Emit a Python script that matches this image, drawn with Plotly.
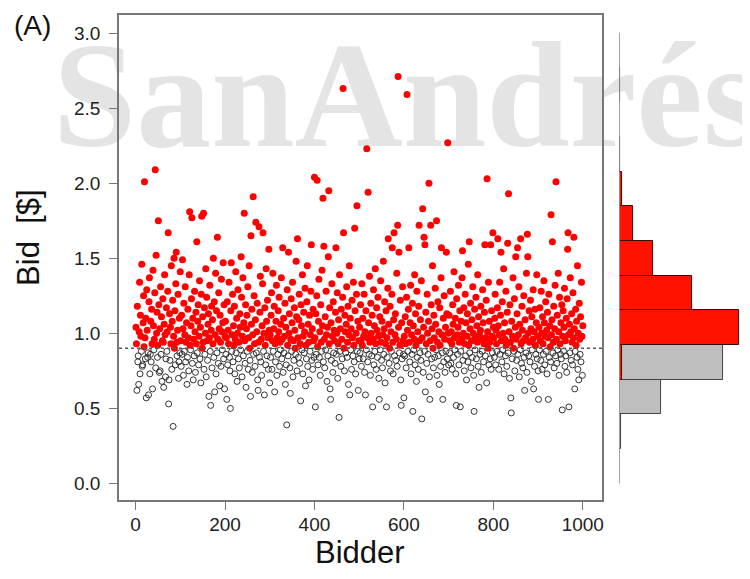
import plotly.graph_objects as go

# ---------------- data (bids in cents) ----------------
bids_0001_0100 = [104, 93, 62, 118, 81, 85, 66, 101, 134, 73,
                  112, 98, 88, 146, 78, 79, 107, 125, 91, 201,
                  97, 83, 110, 57, 129, 102, 84, 87, 59, 121,
                  137, 73, 86, 108, 81, 116, 93, 63, 142, 105,
                  89, 96, 127, 209, 77, 152, 100, 114, 84, 92,
                  175, 119, 74, 103, 75, 131, 86, 111, 68, 95,
                  123, 94, 64, 106, 139, 99, 71, 83, 117, 88,
                  101, 128, 167, 53, 69, 113, 82, 104, 93, 145,
                  76, 108, 122, 38, 98, 150, 90, 115, 79, 133,
                  154, 94, 85, 102, 126, 70, 81, 110, 87, 141]
bids_0101_0200 = [95, 78, 112, 86, 149, 103, 72, 120, 88, 99,
                  131, 81, 94, 107, 66, 84, 116, 97, 75, 139,
                  181, 92, 89, 105, 123, 177, 80, 110, 69, 96,
                  85, 128, 101, 74, 114, 93, 161, 87, 108, 119,
                  79, 98, 135, 83, 104, 67, 126, 178, 90, 111,
                  94, 180, 76, 117, 86, 100, 143, 71, 124, 95,
                  82, 106, 113, 58, 97, 132, 88, 52, 102, 118,
                  77, 109, 93, 150, 84, 121, 61, 99, 140, 73,
                  115, 87, 164, 96, 80, 127, 103, 65, 112, 94,
                  78, 136, 101, 89, 107, 147, 83, 119, 63, 98]
bids_0201_0300 = [108, 86, 97, 56, 121, 79, 102, 93, 134, 84,
                  75, 50, 115, 147, 88, 99, 126, 81, 105, 92,
                  118, 73, 96, 141, 87, 110, 68, 100, 129, 83,
                  94, 77, 113, 104, 89, 151, 124, 71, 98, 137,
                  85, 107, 180, 95, 80, 119, 64, 103, 112, 88,
                  131, 76, 97, 145, 90, 82, 58, 165, 106, 116,
                  74, 99, 191, 86, 125, 93, 78, 109, 174, 87,
                  101, 120, 69, 62, 94, 171, 84, 114, 138, 81,
                  96, 72, 105, 133, 167, 88, 100, 59, 117, 92,
                  79, 143, 108, 85, 122, 97, 76, 156, 102, 67]
bids_0301_0400 = [99, 84, 112, 127, 76, 95, 140, 88, 103, 118,
                  61, 93, 81, 108, 132, 72, 97, 86, 115, 101,
                  124, 78, 94, 89, 106, 137, 83, 96, 157, 74,
                  110, 87, 98, 120, 66, 104, 79, 39, 129, 92,
                  85, 154, 100, 113, 77, 60, 96, 123, 88, 107,
                  134, 71, 95, 82, 117, 102, 90, 86, 148, 111,
                  75, 163, 97, 84, 109, 126, 80, 93, 55, 119,
                  105, 89, 139, 73, 98, 114, 87, 101, 130, 65,
                  92, 83, 121, 145, 78, 106, 94, 69, 112, 88,
                  99, 128, 159, 82, 103, 76, 116, 95, 84, 204]
bids_0401_0500 = [97, 51, 113, 86, 125, 202, 91, 79, 108, 136,
                  84, 101, 72, 119, 94, 88, 142, 105, 190, 81,
                  158, 96, 77, 111, 89, 128, 99, 68, 104, 85,
                  151, 195, 93, 117, 63, 56, 107, 82, 133, 98,
                  74, 121, 87, 102, 95, 80, 114, 157, 86, 100,
                  127, 70, 93, 109, 44, 139, 88, 103, 78, 116,
                  96, 83, 124, 263, 167, 90, 75, 112, 101, 87,
                  106, 131, 84, 94, 118, 66, 99, 145, 59, 110,
                  89, 103, 76, 122, 97, 85, 134, 92, 81, 170,
                  115, 73, 100, 126, 185, 88, 108, 62, 95, 83]
bids_0501_0600 = [104, 87, 119, 95, 78, 133, 92, 110, 83, 98,
                  126, 74, 101, 59, 115, 89, 223, 97, 81, 194,
                  107, 86, 138, 94, 72, 120, 100, 85, 112, 51,
                  96, 129, 79, 105, 88, 143, 93, 76, 117, 102,
                  84, 124, 98, 70, 56, 111, 89, 135, 94, 82,
                  108, 77, 99, 148, 86, 103, 121, 67, 93, 115,
                  51, 97, 84, 130, 163, 106, 80, 90, 118, 75,
                  101, 88, 126, 157, 94, 73, 109, 167, 85, 99,
                  113, 82, 96, 140, 78, 172, 271, 104, 154, 87,
                  92, 122, 69, 52, 107, 83, 131, 95, 86, 57]
bids_0601_0700 = [98, 85, 111, 93, 77, 124, 259, 102, 88, 116,
                  157, 94, 81, 107, 132, 73, 99, 86, 120, 48,
                  105, 89, 96, 139, 79, 113, 92, 68, 128, 84,
                  101, 76, 118, 172, 95, 87, 109, 82, 135, 43,
                  97, 183, 74, 104, 164, 88, 159, 61, 114, 93,
                  80, 126, 100, 86, 108, 200, 71, 56, 95, 172,
                  119, 83, 103, 145, 90, 77, 112, 97, 84, 130,
                  106, 89, 175, 72, 94, 121, 85, 101, 66, 117,
                  92, 78, 137, 157, 99, 87, 56, 110, 81, 125,
                  96, 74, 104, 88, 154, 113, 83, 227, 100, 79]
bids_0701_0800 = [112, 87, 95, 128, 80, 101, 93, 76, 119, 106,
                  84, 141, 97, 89, 110, 73, 52, 123, 99, 86,
                  104, 132, 79, 94, 115, 51, 88, 108, 96, 137,
                  155, 82, 100, 117, 75, 93, 126, 85, 107, 69,
                  98, 113, 81, 146, 92, 161, 87, 103, 120, 77,
                  95, 109, 84, 131, 100, 72, 48, 116, 89, 97,
                  124, 83, 105, 94, 139, 78, 111, 64, 99, 86,
                  102, 118, 74, 96, 88, 129, 107, 81, 93, 114,
                  159, 85, 97, 122, 67, 203, 101, 90, 134, 79,
                  108, 94, 83, 159, 76, 115, 98, 87, 167, 104]
bids_0801_0900 = [97, 84, 110, 126, 79, 102, 93, 88, 117, 163,
                  105, 76, 99, 134, 86, 112, 154, 95, 81, 121,
                  89, 100, 143, 73, 107, 96, 85, 128, 92, 78,
                  114, 160, 87, 193, 101, 70, 119, 94, 57, 47,
                  108, 83, 98, 137, 90, 88, 123, 75, 104, 151,
                  96, 82, 113, 157, 86, 99, 131, 71, 106, 89,
                  163, 93, 80, 118, 102, 77, 95, 125, 84, 62,
                  109, 97, 87, 140, 74, 166, 151, 100, 85, 115,
                  94, 81, 122, 103, 68, 111, 89, 96, 129, 63,
                  101, 78, 116, 92, 86, 107, 139, 83, 98, 75]
bids_0901_1000 = [56, 104, 89, 117, 95, 82, 128, 100, 76, 111,
                  93, 86, 135, 107, 79, 98, 121, 88, 102, 73,
                  114, 97, 56, 126, 84, 105, 91, 81, 179, 99,
                  109, 161, 87, 94, 118, 77, 103, 132, 85, 201,
                  96, 80, 112, 89, 140, 101, 72, 124, 93, 86,
                  107, 83, 119, 49, 98, 115, 88, 104, 130, 78,
                  95, 85, 110, 74, 123, 156, 167, 99, 51, 106,
                  87, 137, 101, 82, 113, 94, 79, 127, 97, 164,
                  103, 63, 88, 116, 92, 108, 84, 145, 76, 100,
                  69, 120, 96, 86, 111, 81, 134, 98, 72, 105]

threshold = 0.90

# histogram (13 equal bins from 0 to 3), counts
hist_lo_edge = 0.0
hist_hi_edge = 3.0
hist_nbins = 13
hist_counts_low = [0, 5, 105, 263, 0, 0, 0, 0, 0, 0, 0, 0, 0]
hist_counts_high = [0, 0, 0, 7, 302, 183, 85, 36, 8, 3, 0, 3, 0]

x_ticks = [0, 200, 400, 600, 800, 1000]
y_ticks = [0.0, 0.5, 1.0, 1.5, 2.0, 2.5, 3.0]

# ---------------- build ----------------
groups = [bids_0001_0100, bids_0101_0200, bids_0201_0300, bids_0301_0400,
          bids_0401_0500, bids_0501_0600, bids_0601_0700, bids_0701_0800,
          bids_0801_0900, bids_0901_1000]
bids = [v / 100.0 for g in groups for v in g]
bidders = list(range(1, len(bids) + 1))

lo_x = [b for b, v in zip(bidders, bids) if v < threshold]
lo_y = [v for v in bids if v < threshold]
hi_x = [b for b, v in zip(bidders, bids) if v >= threshold]
hi_y = [v for v in bids if v >= threshold]

bw = (hist_hi_edge - hist_lo_edge) / hist_nbins
centers = [hist_lo_edge + bw * (i + 0.5) for i in range(hist_nbins)]

YR = [-0.11, 3.12]

fig = go.Figure()

# watermark (drawn first so that the data sits on top of it)
fig.add_trace(go.Scatter(x=[607], y=[2.50], mode="text", text=["<b>SanAndrés</b>"],
                         textfont=dict(family="Liberation Serif", size=150, color="#e4e4e4"),
                         cliponaxis=False, hoverinfo="skip", showlegend=False))
fig.add_trace(go.Scatter(x=[603], y=[3.245], mode="text", text=["<b>Universidad de</b>"],
                         textfont=dict(family="Liberation Serif", size=60, color="#e4e4e4"),
                         cliponaxis=False, hoverinfo="skip", showlegend=False))

fig.add_trace(go.Scatter(x=lo_x, y=lo_y, mode="markers", showlegend=False,
                         marker=dict(symbol="circle-open", size=6, color="#333333",
                                     line=dict(width=1, color="#333333"))))
fig.add_trace(go.Scatter(x=hi_x, y=hi_y, mode="markers", showlegend=False,
                         marker=dict(symbol="circle", size=7, color="#ff0000",
                                     line=dict(width=0))))

fig.add_trace(go.Bar(x=hist_counts_low, y=centers, width=bw, orientation="h",
                     xaxis="x2", yaxis="y2", showlegend=False,
                     marker=dict(color="#bebebe", line=dict(color="#444444", width=1))))
fig.add_trace(go.Bar(x=hist_counts_high, y=centers, width=bw, orientation="h",
                     xaxis="x2", yaxis="y2", showlegend=False,
                     marker=dict(color="#ff1200", line=dict(color="#3a0a00", width=1))))

fig.add_shape(type="line", xref="x domain", x0=0, x1=1, yref="y", y0=threshold, y1=threshold,
              line=dict(color="#555555", width=1.5, dash="dot"))
fig.add_shape(type="line", xref="x2", x0=0, x1=0, yref="y2", y0=hist_lo_edge, y1=hist_hi_edge,
              line=dict(color="#9a9a9a", width=1.5))

axis_font = dict(family="Liberation Sans", size=19, color="#222222")
fig.update_layout(
    width=742, height=571,
    margin=dict(l=111, r=5, t=7, b=79),
    paper_bgcolor="white", plot_bgcolor="white",
    barmode="overlay", bargap=0,
    xaxis=dict(domain=[0, 0.7741], range=[-37, 1043], tickvals=x_ticks,
               ticks="outside", ticklen=8, tickwidth=1.2, tickcolor="#777777",
               showline=True, mirror=True, linecolor="#777777", linewidth=1.5,
               showgrid=False, zeroline=False, tickfont=axis_font,
               ticklabelstandoff=-2),
    yaxis=dict(range=YR, tickvals=y_ticks,
               ticktext=["%.1f" % t for t in y_ticks],
               ticks="outside", ticklen=8, tickwidth=1.2, tickcolor="#777777",
               showline=True, mirror=True, linecolor="#777777", linewidth=1.5,
               showgrid=False, zeroline=False, tickfont=axis_font,
               ticklabelstandoff=5),
    xaxis2=dict(domain=[0.8014, 1.0], range=[0, 312], anchor="y2", visible=False),
    yaxis2=dict(range=YR, anchor="x2", visible=False),
    annotations=[
        dict(text="(A)", xref="paper", yref="paper", x=-0.1714, y=1.0144,
             xanchor="left", yanchor="top", showarrow=False,
             font=dict(family="Liberation Sans", size=28, color="#111111")),
        dict(text="Bidder", xref="paper", yref="paper", x=0.3866, y=-0.108,
             xanchor="center", yanchor="middle", showarrow=False,
             font=dict(family="Liberation Sans", size=31, color="#111111")),
        dict(text="Bid  [$]", xref="paper", yref="paper", x=-0.1454, y=0.541,
             xanchor="center", yanchor="middle", showarrow=False, textangle=-90,
             font=dict(family="Liberation Sans", size=31, color="#111111")),
    ],
)

fig.write_html("out.html")
